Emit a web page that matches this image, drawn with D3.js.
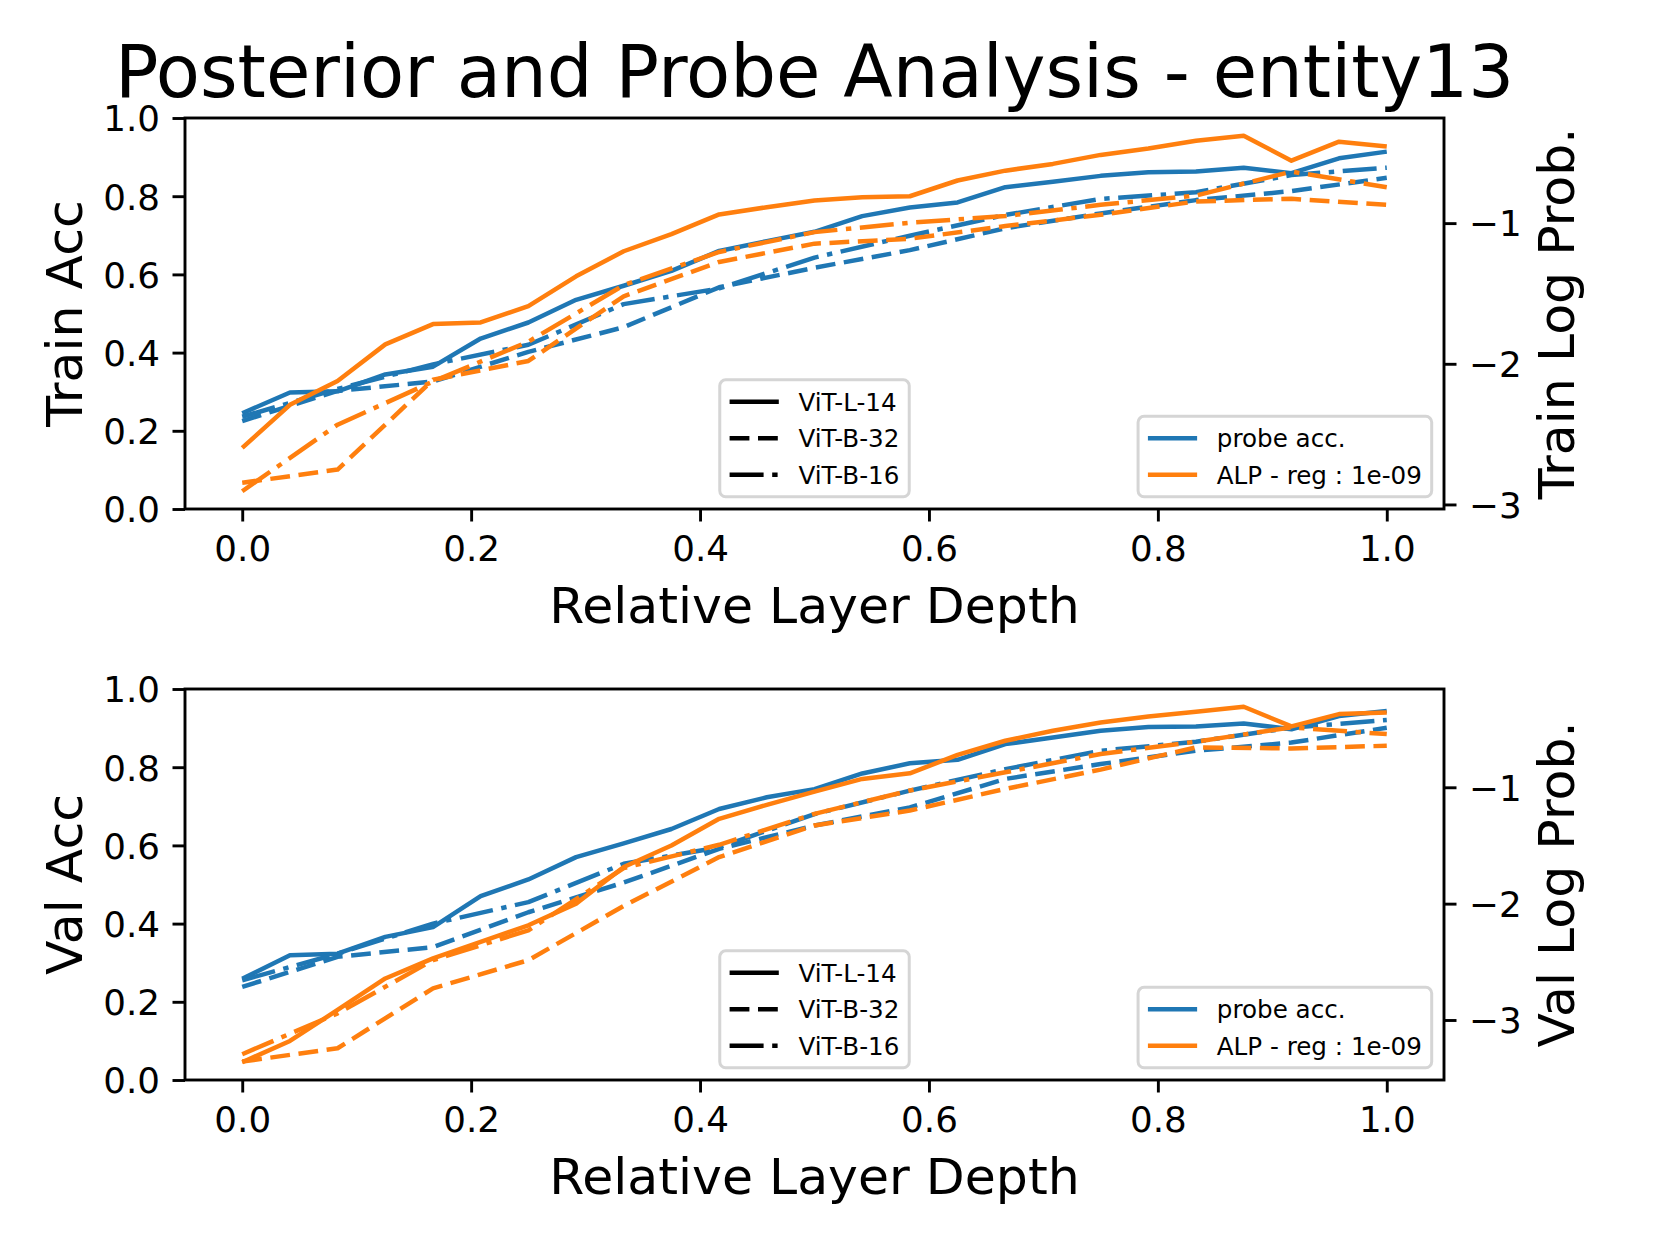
<!DOCTYPE html>
<html>
<head>
<meta charset="utf-8">
<script src="https://cdn.jsdelivr.net/npm/d3@7"></script>
<style>
  body { margin: 0; background: #fff; }
  text { font-family: "DejaVu Sans", sans-serif; fill: #000; }
</style>
</head>
<body>
<svg id="chart" width="1660" height="1245"></svg>
<script>
/* DATA */
// relative layer depth for the 24-layer and the 12-layer models
const depthL = [0, 0.0417, 0.0833, 0.125, 0.1667, 0.2083, 0.25, 0.2917, 0.3333, 0.375, 0.4167, 0.4583,
  0.5, 0.5417, 0.5833, 0.625, 0.6667, 0.7083, 0.75, 0.7917, 0.8333, 0.875, 0.9167, 0.9583, 1];
const depthB = [0, 0.0833, 0.1667, 0.25, 0.3333, 0.4167, 0.5, 0.5833, 0.6667, 0.75, 0.8333, 0.9167, 1];

const models = ["ViT-L-14", "ViT-B-32", "ViT-B-16"];

// train: probe accuracy (left axis)
const trainAccL = [0.245, 0.298, 0.301, 0.344, 0.364, 0.436, 0.477, 0.535, 0.571, 0.609, 0.660, 0.685,
  0.709, 0.749, 0.771, 0.784, 0.823, 0.837, 0.852, 0.861, 0.863, 0.873, 0.859, 0.897, 0.914];
const trainAccB32 = [0.225, 0.302, 0.326, 0.402, 0.465, 0.567, 0.617, 0.662, 0.718, 0.756, 0.790, 0.813, 0.847];
const trainAccB16 = [0.236, 0.307, 0.370, 0.420, 0.524, 0.564, 0.643, 0.699, 0.752, 0.793, 0.810, 0.854, 0.873];
// train: ALP log prob (right axis)
const trainLpL = [-2.598, -2.292, -2.122, -1.862, -1.718, -1.706, -1.590, -1.378, -1.200, -1.078, -0.938, -0.887,
  -0.839, -0.816, -0.809, -0.697, -0.627, -0.579, -0.515, -0.469, -0.414, -0.379, -0.556, -0.421, -0.455];
const trainLpB32 = [-2.846, -2.752, -2.114, -1.980, -1.520, -1.276, -1.146, -1.111, -1.021, -0.941, -0.846, -0.827, -0.870];
const trainLpB16 = [-2.906, -2.433, -2.126, -1.843, -1.441, -1.205, -1.064, -0.997, -0.950, -0.870, -0.804, -0.634, -0.745];

// val: probe accuracy (left axis)
const valAccL = [0.259, 0.319, 0.323, 0.366, 0.391, 0.470, 0.513, 0.570, 0.605, 0.642, 0.693, 0.723,
  0.744, 0.784, 0.810, 0.819, 0.859, 0.876, 0.893, 0.903, 0.904, 0.912, 0.897, 0.931, 0.944];
const valAccB32 = [0.238, 0.315, 0.340, 0.429, 0.505, 0.591, 0.651, 0.697, 0.770, 0.808, 0.842, 0.863, 0.901];
const valAccB16 = [0.255, 0.323, 0.400, 0.455, 0.553, 0.595, 0.680, 0.740, 0.795, 0.842, 0.865, 0.901, 0.921];
// val: ALP log prob (right axis)
const valLpL = [-3.363, -3.180, -2.914, -2.643, -2.471, -2.329, -2.186, -2.000, -1.685, -1.500, -1.271, -1.151,
  -1.037, -0.928, -0.880, -0.722, -0.600, -0.514, -0.443, -0.391, -0.351, -0.308, -0.477, -0.371, -0.357];
const valLpB32 = [-3.357, -3.243, -2.728, -2.486, -2.020, -1.600, -1.328, -1.200, -1.014, -0.848, -0.657, -0.666, -0.643];
const valLpB16 = [-3.294, -2.943, -2.486, -2.229, -1.694, -1.494, -1.228, -1.028, -0.871, -0.714, -0.608, -0.485, -0.543];

// tick labels
const xTicks = [0, 0.2, 0.4, 0.6, 0.8, 1.0];
const accTicks = [0, 0.2, 0.4, 0.6, 0.8, 1.0];
const lpTicks = [-1, -2, -3];

const seriesLabels = ["probe acc.", "ALP - reg : 1e-09"];
const titleText = "Posterior and Probe Analysis - entity13";

/* CONSTANTS */
const
  W = 1660,
  margin = { left: 185, right: 216 },   // right = 1660 - 1444
  panelTops = [118, 689],
  panelHeight = 391,
  blue = "#1f77b4",
  orange = "#ff7f0e",
  lw = 4.5,
  tickFont = 35.7,
  labelFont = 50.5,
  legendFont = 24.6,
  tickLen = 12.5,
  tickPad = 12.5,
  dashes = { "ViT-L-14": null, "ViT-B-32": "19.8,8.6", "ViT-B-16": "34,8.6,5.4,8.6" };

const svg = d3.select("#chart");

// title
svg.append("text")
  .attr("x", (margin.left + W - margin.right) / 2)
  .attr("y", 97)
  .attr("text-anchor", "middle")
  .attr("font-size", 72.2)
  .text(titleText);

const x = d3.scaleLinear()
  .domain([-0.05, 1.05])
  .range([margin.left, W - margin.right]);

const panels = [
  {
    top: panelTops[0], ylabel: "Train Acc", y2label: "Train Log Prob.",
    acc: [trainAccL, trainAccB32, trainAccB16],
    lp: [trainLpL, trainLpB32, trainLpB16]
  },
  {
    top: panelTops[1], ylabel: "Val Acc", y2label: "Val Log Prob.",
    acc: [valAccL, valAccB32, valAccB16],
    lp: [valLpL, valLpB32, valLpB16]
  }
];

panels.forEach(drawPanel);

function drawPanel(p) {
  const bottom = p.top + panelHeight;
  const depths = [depthL, depthB, depthB];

  const y = d3.scaleLinear().domain([0, 1]).range([bottom, p.top]);

  // right axis auto-scaled with 5% margins, like matplotlib
  const ext = d3.extent(p.lp.flat());
  const pad = (ext[1] - ext[0]) * 0.05;
  const y2 = d3.scaleLinear().domain([ext[0] - pad, ext[1] + pad]).range([bottom, p.top]);

  const g = svg.append("g");

  const line = (ys) => d3.line()
    .x(d => x(d[0]))
    .y(d => ys(d[1]));

  // probe acc lines first, then ALP lines on the twin axis (drawn on top)
  models.forEach((m, k) => {
    g.append("path")
      .datum(d3.zip(depths[k], p.acc[k]))
      .attr("d", line(y))
      .attr("fill", "none")
      .attr("stroke", blue)
      .attr("stroke-width", lw)
      .attr("stroke-linejoin", "round")
      .attr("stroke-dasharray", dashes[m]);
  });
  models.forEach((m, k) => {
    g.append("path")
      .datum(d3.zip(depths[k], p.lp[k]))
      .attr("d", line(y2))
      .attr("fill", "none")
      .attr("stroke", orange)
      .attr("stroke-width", lw)
      .attr("stroke-linejoin", "round")
      .attr("stroke-dasharray", dashes[m]);
  });

  // axes
  const xAxis = g.append("g")
    .attr("transform", `translate(0,${bottom})`)
    .call(d3.axisBottom(x).tickValues(xTicks).tickFormat(d3.format(".1f"))
      .tickSize(tickLen).tickPadding(tickPad));
  const yAxis = g.append("g")
    .attr("transform", `translate(${margin.left},0)`)
    .call(d3.axisLeft(y).tickValues(accTicks).tickFormat(d3.format(".1f"))
      .tickSize(tickLen).tickPadding(tickPad));
  const y2Axis = g.append("g")
    .attr("transform", `translate(${W - margin.right},0)`)
    .call(d3.axisRight(y2).tickValues(lpTicks).tickFormat(d3.format("d"))
      .tickSize(tickLen).tickPadding(tickPad));

  [xAxis, yAxis, y2Axis].forEach(a => {
    a.attr("font-family", null).attr("font-size", null);
    a.select(".domain").remove();
    a.selectAll(".tick line").attr("stroke", "#000").attr("stroke-width", 2.9);
    a.selectAll(".tick text").attr("font-size", tickFont).attr("fill", "#000");
  });
  xAxis.selectAll(".tick text").attr("dy", "0.76em");
  yAxis.selectAll(".tick text").attr("dy", "0.36em");
  y2Axis.selectAll(".tick text").attr("dy", "0.36em");

  // frame
  g.append("rect")
    .attr("x", margin.left)
    .attr("y", p.top)
    .attr("width", W - margin.left - margin.right)
    .attr("height", panelHeight)
    .attr("fill", "none")
    .attr("stroke", "#000")
    .attr("stroke-width", 2.9);

  // axis labels
  g.append("text")
    .attr("x", (margin.left + W - margin.right) / 2)
    .attr("y", bottom + 114)
    .attr("text-anchor", "middle")
    .attr("font-size", labelFont)
    .text("Relative Layer Depth");

  const midY = p.top + panelHeight / 2;
  g.append("text")
    .attr("transform", `translate(82,${midY}) rotate(-90)`)
    .attr("text-anchor", "middle")
    .attr("font-size", labelFont)
    .text(p.ylabel);
  g.append("text")
    .attr("transform", `translate(1574,${midY}) rotate(-90)`)
    .attr("text-anchor", "middle")
    .attr("font-size", labelFont)
    .text(p.y2label);

  // legends
  drawLegend(g, models.map(m => ({ label: m, color: "#000", dash: dashes[m] })), "center", bottom);
  drawLegend(g, seriesLabels.map((s, i) => ({ label: s, color: i ? orange : blue, dash: null })), "right", bottom);
}

function drawLegend(g, entries, where, bottom) {
  const fs = legendFont,
    bpad = 0.4 * fs,
    handle = 2 * fs,
    htpad = 0.8 * fs,
    rowH = 24.2,
    gap = 0.5 * fs;

  const lg = g.append("g");
  const frame = lg.append("rect");

  const texts = entries.map(e => lg.append("text").attr("font-size", fs).text(e.label));
  const textW = d3.max(texts, t => t.node().getComputedTextLength());

  const boxW = bpad + handle + htpad + textW + bpad;
  const boxH = 2 * bpad + entries.length * rowH + (entries.length - 1) * gap;
  const right = W - margin.right;
  const x0 = where === "center"
    ? (margin.left + right) / 2 - boxW / 2
    : right - 0.5 * fs - boxW;
  const y0 = bottom - 0.5 * fs - boxH;

  frame
    .attr("x", x0).attr("y", y0)
    .attr("width", boxW).attr("height", boxH)
    .attr("rx", 6)
    .attr("fill", "#fff").attr("fill-opacity", 0.8)
    .attr("stroke", "#d5d5d5").attr("stroke-width", 3);

  entries.forEach((e, i) => {
    const cy = y0 + bpad + rowH / 2 + i * (rowH + gap);
    lg.append("line")
      .attr("x1", x0 + bpad).attr("x2", x0 + bpad + handle)
      .attr("y1", cy).attr("y2", cy)
      .attr("stroke", e.color)
      .attr("stroke-width", lw)
      .attr("stroke-dasharray", e.dash);
    texts[i]
      .attr("x", x0 + bpad + handle + htpad)
      .attr("y", cy)
      .attr("dy", "0.36em");
  });
}
</script>
</body>
</html>
